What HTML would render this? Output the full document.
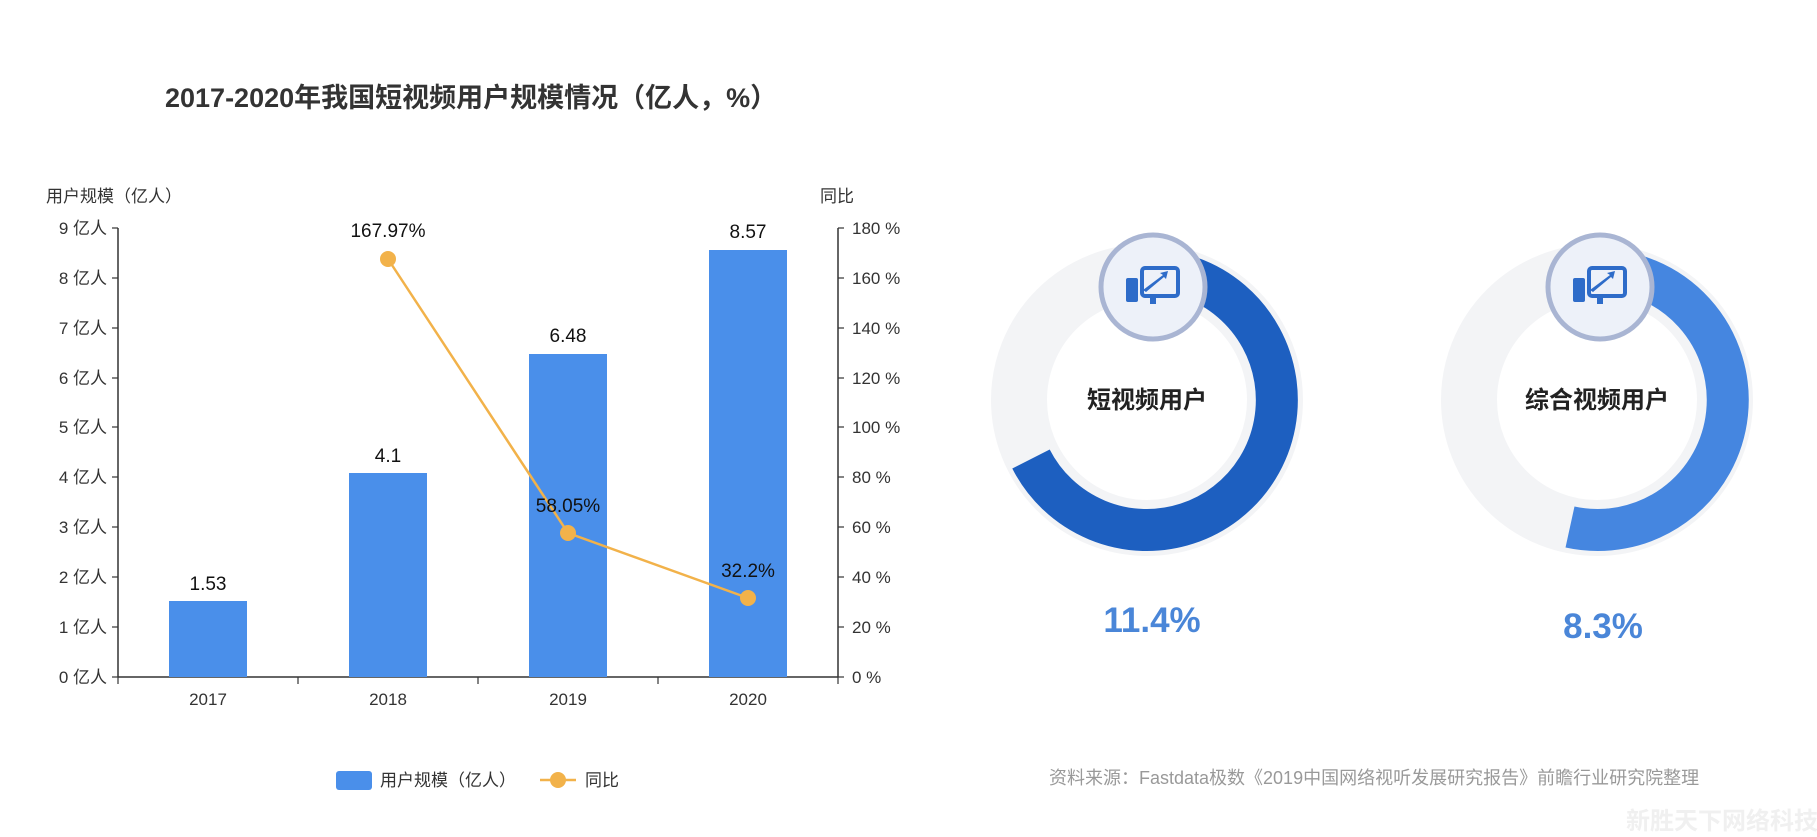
<!DOCTYPE html>
<html><head><meta charset="utf-8"><style>
body{margin:0;width:1817px;height:832px;background:#fff;overflow:hidden;font-family:"Liberation Sans","Noto Sans CJK SC",sans-serif}
</style></head><body>
<svg width="1817" height="832" viewBox="0 0 1817 832" xmlns="http://www.w3.org/2000/svg" font-family="Liberation Sans, Noto Sans CJK SC, sans-serif">
<text x="165" y="107" font-size="27" font-weight="bold" fill="#333">2017-2020年我国短视频用户规模情况（亿人，%）</text>
<text x="46" y="202" font-size="17" fill="#333">用户规模（亿人）</text>
<text x="820" y="202" font-size="17" fill="#333">同比</text>
<g stroke="#333" stroke-width="1.5">
<line x1="118" y1="228" x2="118" y2="677"/>
<line x1="838" y1="228" x2="838" y2="677"/>
<line x1="118" y1="677" x2="838" y2="677"/>
</g>
<g stroke="#333" stroke-width="1.2">
<line x1="112" y1="228" x2="118" y2="228"/><line x1="112" y1="278" x2="118" y2="278"/><line x1="112" y1="328" x2="118" y2="328"/><line x1="112" y1="378" x2="118" y2="378"/><line x1="112" y1="427" x2="118" y2="427"/><line x1="112" y1="477" x2="118" y2="477"/><line x1="112" y1="527" x2="118" y2="527"/><line x1="112" y1="577" x2="118" y2="577"/><line x1="112" y1="627" x2="118" y2="627"/><line x1="112" y1="677" x2="118" y2="677"/>
<line x1="838" y1="228" x2="844" y2="228"/><line x1="838" y1="278" x2="844" y2="278"/><line x1="838" y1="328" x2="844" y2="328"/><line x1="838" y1="378" x2="844" y2="378"/><line x1="838" y1="427" x2="844" y2="427"/><line x1="838" y1="477" x2="844" y2="477"/><line x1="838" y1="527" x2="844" y2="527"/><line x1="838" y1="577" x2="844" y2="577"/><line x1="838" y1="627" x2="844" y2="627"/><line x1="838" y1="677" x2="844" y2="677"/>
<line x1="118" y1="677" x2="118" y2="684"/><line x1="298" y1="677" x2="298" y2="684"/><line x1="478" y1="677" x2="478" y2="684"/><line x1="658" y1="677" x2="658" y2="684"/><line x1="838" y1="677" x2="838" y2="684"/>
</g>
<g font-size="17" fill="#333" text-anchor="end">
<text x="107" y="234">9 亿人</text><text x="107" y="284">8 亿人</text><text x="107" y="334">7 亿人</text><text x="107" y="384">6 亿人</text><text x="107" y="433">5 亿人</text><text x="107" y="483">4 亿人</text><text x="107" y="533">3 亿人</text><text x="107" y="583">2 亿人</text><text x="107" y="633">1 亿人</text><text x="107" y="683">0 亿人</text>
</g>
<g font-size="17" fill="#333">
<text x="852" y="234">180 %</text><text x="852" y="284">160 %</text><text x="852" y="334">140 %</text><text x="852" y="384">120 %</text><text x="852" y="433">100 %</text><text x="852" y="483">80 %</text><text x="852" y="533">60 %</text><text x="852" y="583">40 %</text><text x="852" y="633">20 %</text><text x="852" y="683">0 %</text>
</g>
<g font-size="17" fill="#333" text-anchor="middle">
<text x="208" y="705">2017</text><text x="388" y="705">2018</text><text x="568" y="705">2019</text><text x="748" y="705">2020</text>
</g>
<g fill="#4a8fea">
<rect x="169" y="601" width="78" height="76"/>
<rect x="349" y="473" width="78" height="204"/>
<rect x="529" y="354" width="78" height="323"/>
<rect x="709" y="250" width="78" height="427"/>
</g>
<g font-size="19" fill="#111" text-anchor="middle">
<text x="208" y="590">1.53</text><text x="388" y="462">4.1</text><text x="568" y="342">6.48</text><text x="748" y="238">8.57</text>
</g>
<polyline points="388,259 568,533 748,598" fill="none" stroke="#f2b24a" stroke-width="2.5"/>
<g fill="#f2b24a"><circle cx="388" cy="259" r="8"/><circle cx="568" cy="533" r="8"/><circle cx="748" cy="598" r="8"/></g>
<g font-size="19" fill="#111" text-anchor="middle">
<text x="388" y="237">167.97%</text><text x="568" y="512">58.05%</text><text x="748" y="577">32.2%</text>
</g>
<rect x="336" y="771" width="36" height="19" rx="3" fill="#4a8fea"/>
<text x="380" y="786" font-size="17" fill="#333">用户规模（亿人）</text>
<line x1="540" y1="780" x2="576" y2="780" stroke="#f2b24a" stroke-width="2.5"/>
<circle cx="558" cy="780" r="8" fill="#f2b24a"/>
<text x="585" y="786" font-size="17" fill="#333">同比</text>

<!-- donut 1 -->
<circle cx="1147" cy="400" r="128" fill="none" stroke="#f3f4f6" stroke-width="56"/>
<path d="M1147 270 A130 130 0 1 1 1031 459" fill="none" stroke="#1d5fc0" stroke-width="42"/>
<circle cx="1153" cy="287" r="52" fill="#edf1f9" stroke="#a9b5d3" stroke-width="5"/>
<g fill="#2e6cc9">
<rect x="1126" y="278" width="12" height="24" rx="2"/><rect x="1142" y="268" width="36" height="28" rx="3" fill="none" stroke="#2e6cc9" stroke-width="4"/>
<rect x="1150" y="296" width="6" height="8"/><path d="M1143 290 L1163 275 L1160 273 L1168 271 L1166 279 L1164 277 L1146 292Z"/>
</g>
<text x="1147" y="408" font-size="24" font-weight="bold" fill="#222" text-anchor="middle">短视频用户</text>
<text x="1152" y="632" font-size="35" font-weight="bold" fill="#4a86d8" text-anchor="middle">11.4%</text>

<!-- donut 2 -->
<circle cx="1597" cy="400" r="128" fill="none" stroke="#f3f4f6" stroke-width="56"/>
<path d="M1597 270 A130 130 0 1 1 1570 527" fill="none" stroke="#4586e0" stroke-width="42"/>
<circle cx="1600" cy="287" r="52" fill="#edf1f9" stroke="#a9b5d3" stroke-width="5"/>
<g fill="#2e6cc9">
<rect x="1573" y="278" width="12" height="24" rx="2"/><rect x="1589" y="268" width="36" height="28" rx="3" fill="none" stroke="#2e6cc9" stroke-width="4"/>
<rect x="1597" y="296" width="6" height="8"/><path d="M1590 290 L1610 275 L1607 273 L1615 271 L1613 279 L1611 277 L1593 292Z"/>
</g>
<text x="1597" y="408" font-size="24" font-weight="bold" fill="#222" text-anchor="middle">综合视频用户</text>
<text x="1603" y="638" font-size="35" font-weight="bold" fill="#4a86d8" text-anchor="middle">8.3%</text>

<text x="1049" y="784" font-size="18" fill="#999">资料来源：Fastdata极数《2019中国网络视听发展研究报告》前瞻行业研究院整理</text>
<text x="1626" y="829" font-size="24" font-weight="bold" fill="#f0f0f0">新胜天下网络科技</text>
</svg>
</body></html>
